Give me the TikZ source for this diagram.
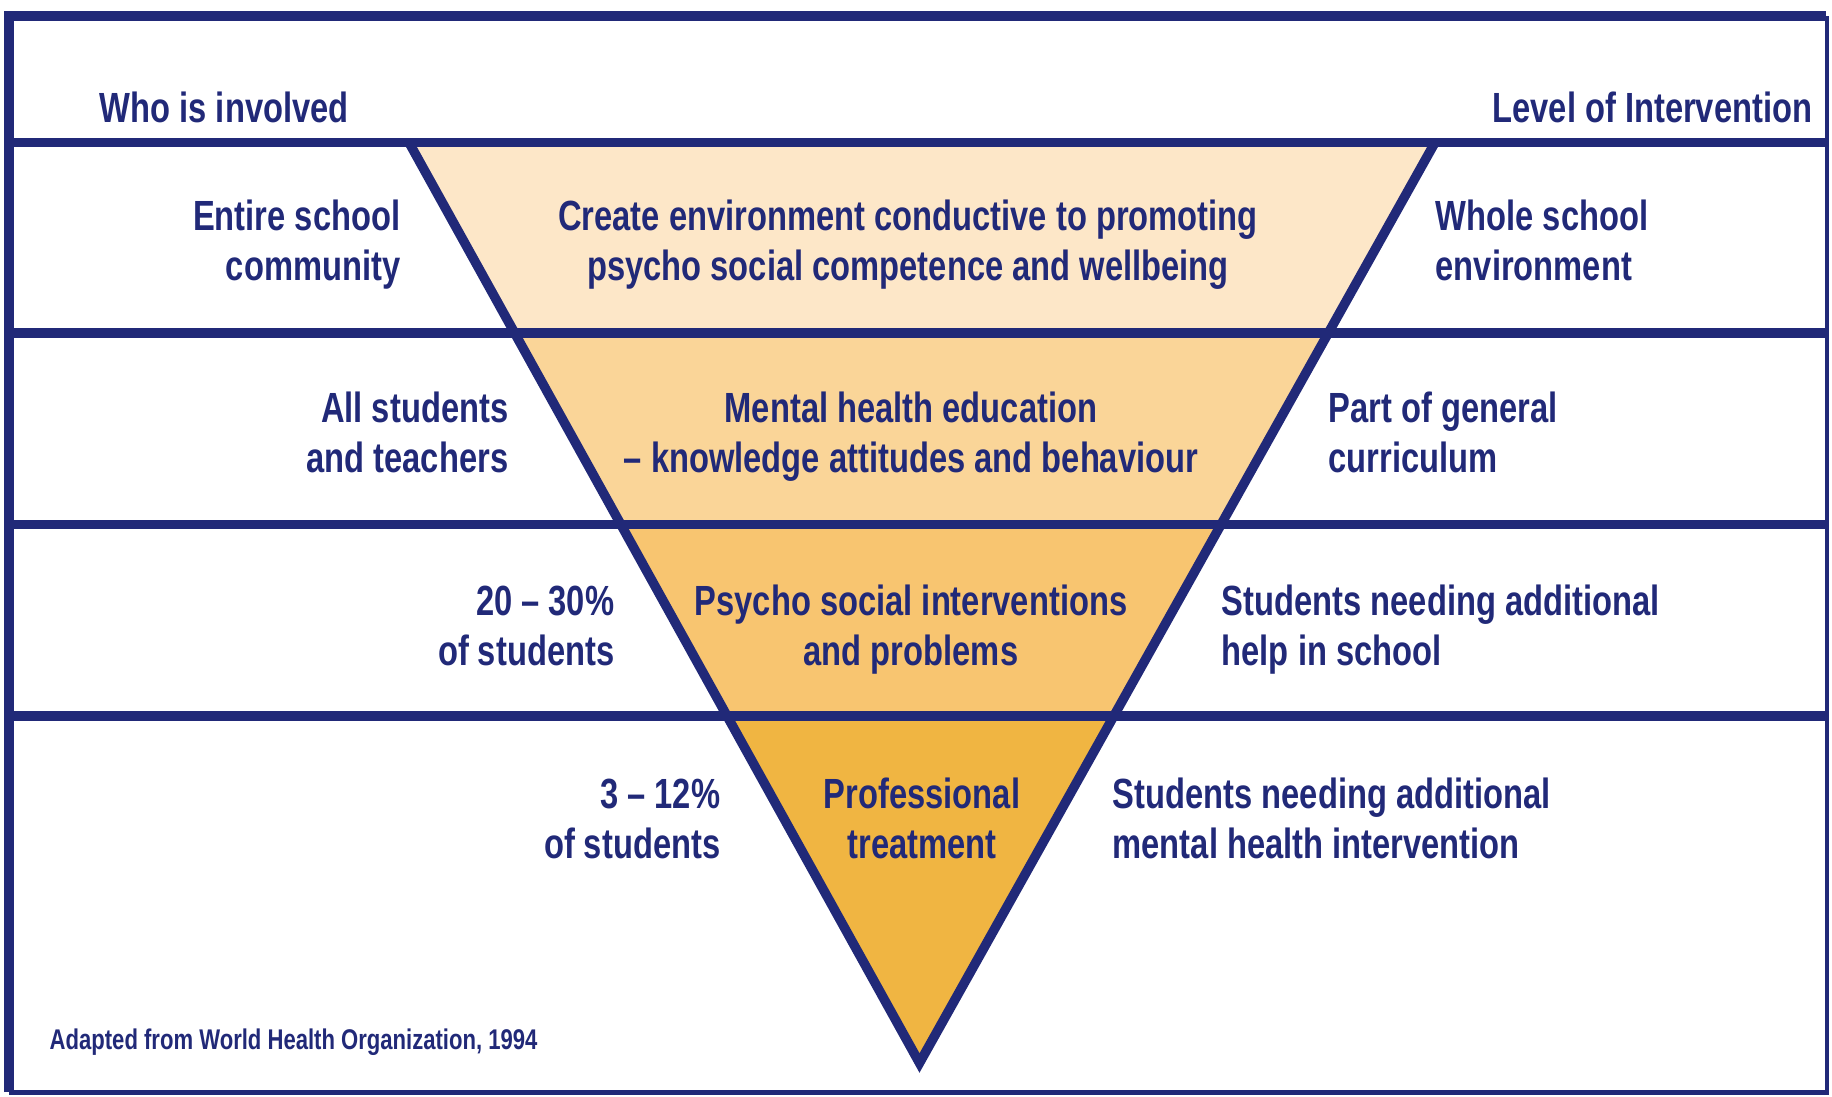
\documentclass[tikz,border=0pt]{standalone}
\usepackage{xcolor}
\usepackage{fontspec}
\setmainfont[FakeStretch=0.775]{Liberation Sans}
\usepackage{tikz}

\definecolor{navy}{RGB}{33,41,120}
\definecolor{bandA}{RGB}{253,231,200}
\definecolor{bandB}{RGB}{250,213,152}
\definecolor{bandC}{RGB}{248,197,112}
\definecolor{bandD}{RGB}{240,181,66}

\tikzset{
    rule/.style={navy, line width=2.7pt},
    label/.style={inner sep=0pt, text=navy, font=\bfseries\fontsize{12}{14.3}\selectfont},
    pair/.style={label, execute at begin node=\strut, execute at end node=\strut},
    whotext/.style={pair, anchor=east, align=right},
    leveltext/.style={pair, anchor=west, align=left},
    midtext/.style={pair, anchor=center, align=center}
}

\begin{document}
\begin{tikzpicture}[x=0.01cm, y=-0.01cm]
    \useasboundingbox (0, 0) rectangle (1832, 1097);

    \coordinate (tl) at (409, 142.5);
    \coordinate (tr) at (1435, 142.5);
    \coordinate (apex) at (919.5, 1063);

    % coloured bands of the funnel
    \begin{scope}
        \clip (tl) -- (tr) -- (apex) -- cycle;
        \fill[bandA] (0, 142.5) rectangle (1832, 333);
        \fill[bandB] (0, 333) rectangle (1832, 524.6);
        \fill[bandC] (0, 524.6) rectangle (1832, 716);
        \fill[bandD] (0, 716) rectangle (1832, 1097);
    \end{scope}

    % frame and rows
    \draw[rule, line width=2.8pt] (9.3, 1092) -- (9.3, 16.4) -- (1826, 16.4);
    \draw[rule, line width=1.4pt] (1827, 16.4) -- (1827, 1092.5) -- (9.3, 1092.5);
    \foreach \y in {142.5, 333, 524.6, 716}
        \draw[rule] (9.3, \y) -- (1827, \y);
    \draw[rule, line join=miter] (tl) -- (apex) -- (tr);

    \node[label, anchor=west] at (99, 107.5) (who) {Who is involved};
    \node[label, anchor=east] at (1813, 107.5) (level) {Level of Intervention};

    \node[whotext] at (401, 248) (who1) {Entire school\\community};
    \node[midtext] at (908, 248) (mid1) {Create environment conductive to promoting\\psycho social competence and wellbeing};
    \node[leveltext] at (1435, 248) (lev1) {Whole school\\environment};

    \node[whotext] at (509, 440) (who2) {All students\\and teachers};
    \node[midtext] at (911, 440) (mid2) {Mental health education\\– knowledge attitudes and behaviour};
    \node[leveltext] at (1328, 440) (lev2) {Part of general\\curriculum};

    \node[whotext] at (615, 633) (who3) {20 – 30\%\\of students};
    \node[midtext] at (911, 633) (mid3) {Psycho social interventions\\and problems};
    \node[leveltext] at (1221, 633) (lev3) {Students needing additional\\help in school};

    \node[whotext] at (721, 826) (who4) {3 – 12\%\\of students};
    \node[midtext] at (922, 826) (mid4) {Professional\\treatment};
    \node[leveltext] at (1112, 826) (lev4) {Students needing additional\\mental health intervention};

    \node[label, anchor=west, font=\bfseries\fontsize{8.1}{9}\selectfont] at (49, 1042) (source) {Adapted from World Health Organization, 1994};
\end{tikzpicture}
\end{document}
